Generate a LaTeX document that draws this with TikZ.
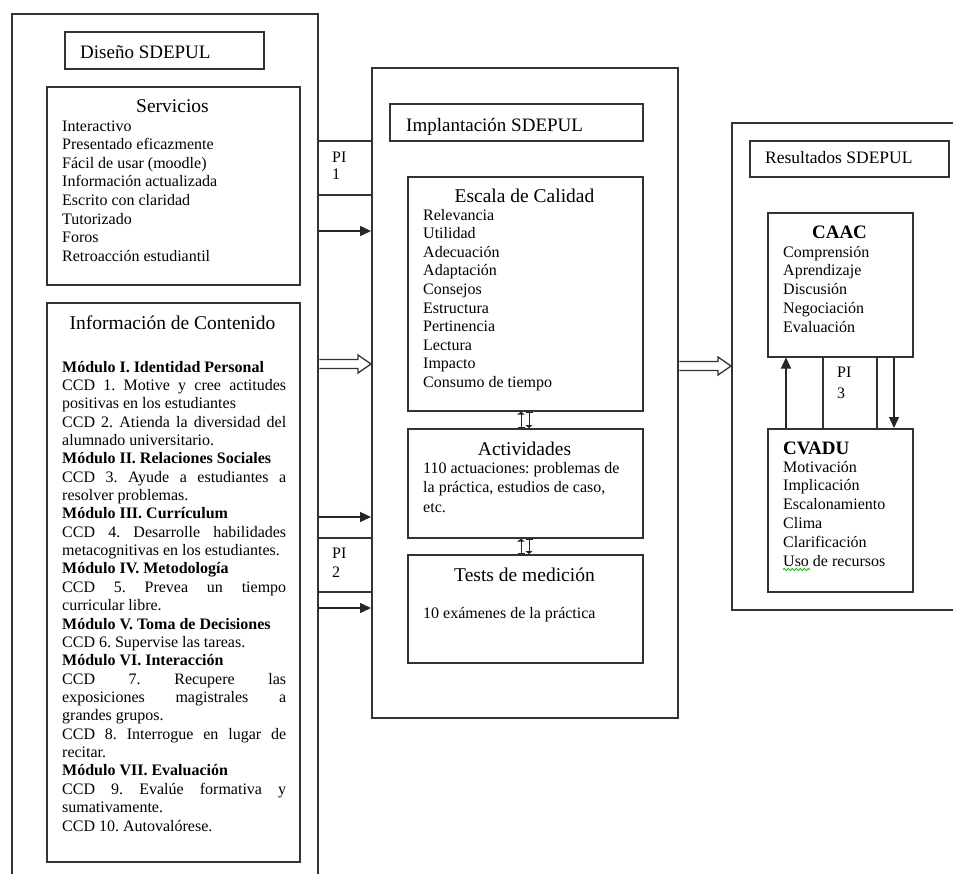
\documentclass[tikz,border=0pt]{standalone}
\usepackage{fontspec}
\setmainfont{Liberation Serif}
\usetikzlibrary{arrows.meta,calc,decorations.pathmorphing}
\tolerance=10000
\hbadness=10000
\hyphenpenalty=10000
\frenchspacing
\tikzset{
  box/.style={draw=black!80, line width=1.5pt, inner sep=0pt, anchor=north west},
  arr/.style={draw=black!85, line width=1.4pt, -{Triangle[length=11pt,width=10pt]}},
  smallarr/.style={draw=black!85, line width=1pt, {Bar[width=7pt]}-{Triangle[length=3pt,width=7pt]}},
  hollow/.style={draw=black!80, line width=1.3pt, fill=white},
  txt/.style={inner sep=0pt, anchor=base west, font=\fontsize{16}{18.6}\selectfont},
  ttl/.style={inner sep=0pt, anchor=base, font=\fontsize{19.5}{22}\selectfont},
  hdr/.style={inner sep=0pt, anchor=base west, font=\fontsize{19}{22}\selectfont},
}
\newcommand{\hollowarr}[2]{%
  \draw[hollow] ($(#1)+(0.8,-4.5)$) -- ($(#2)+(-13,-4.5)$) -- ($(#2)+(-13,-9)$) -- (#2)
    -- ($(#2)+(-13,9)$) -- ($(#2)+(-13,4.5)$) -- ($(#1)+(0.8,4.5)$);}
\begin{document}
\begin{tikzpicture}[x=1pt,y=-1pt]
\useasboundingbox (0,0) rectangle (953,873);
\clip (0,0) rectangle (953,873);
\fill[white] (0,0) rectangle (953,873);

% ---------- boxes ----------
\node[box, minimum width=306pt, minimum height=900pt] (outerL) at (11,13) {};
\node[box, minimum width=199pt, minimum height=37pt] (dis) at (64,31) {};
\node[box, minimum width=253pt, minimum height=198pt] (serv) at (46,86) {};
\node[box, minimum width=253pt, minimum height=559pt] (info) at (46,302) {};

\node[box, minimum width=306pt, minimum height=650pt] (mid) at (371,67) {};
\node[box, minimum width=253pt, minimum height=37pt] (impl) at (389,103) {};
\node[box, minimum width=235pt, minimum height=234pt] (esc) at (407,176) {};
\node[box, minimum width=235pt, minimum height=109pt] (act) at (407,428) {};
\node[box, minimum width=235pt, minimum height=108pt] (tests) at (407,554) {};

\node[box, minimum width=260pt, minimum height=487pt] (res) at (731,122) {};
\node[box, minimum width=199pt, minimum height=36pt] (resT) at (749,140) {};
\node[box, minimum width=145pt, minimum height=144pt] (caac) at (767,212) {};
\node[box, minimum width=145pt, minimum height=163pt] (cvadu) at (767,428) {};

\node[box, minimum width=54pt, minimum height=54pt] (pi1) at (317,140) {};
\node[box, minimum width=54pt, minimum height=54pt] (pi2) at (317,537) {};
\node[box, minimum width=54pt, minimum height=72pt] (pi3) at (822,356) {};

% ---------- texts: left ----------
\node[hdr] (disT) at (80,58) {Diseño SDEPUL};
\node[ttl] (servT) at (172.5,112) {Servicios};
\node[txt] (servL) at (62,131) {\parbox[t]{230pt}{Interactivo\\
Presentado eficazmente\\
Fácil de usar (moodle)\\
Información actualizada\\
Escrito con claridad\\
Tutorizado\\
Foros\\
Retroacción estudiantil}};

\node[ttl] (infoT) at (172.5,329.5) {Información de Contenido};
\node[txt, font=\fontsize{16}{18.36}\selectfont] (infoL) at (62,372) {\parbox[t]{224pt}{%
{\bfseries Módulo I. Identidad Personal}\par
CCD 1. Motive y cree actitudes\linebreak positivas en los estudiantes\par
CCD 2. Atienda la diversidad del\linebreak alumnado universitario.\par
{\bfseries Módulo II. Relaciones Sociales}\par
CCD 3. Ayude a estudiantes a\linebreak resolver problemas.\par
{\bfseries Módulo III. Currículum}\par
CCD 4. Desarrolle habilidades\linebreak metacognitivas en los estudiantes.\par
{\bfseries Módulo IV. Metodología}\par
CCD 5. Prevea un tiempo\linebreak curricular libre.\par
{\bfseries Módulo V. Toma de Decisiones}\par
CCD 6. Supervise las tareas.\par
{\bfseries Módulo VI. Interacción}\par
CCD 7. Recupere las\linebreak exposiciones magistrales a\linebreak grandes grupos.\par
CCD 8. Interrogue en lugar de\linebreak recitar.\par
{\bfseries Módulo VII. Evaluación}\par
CCD 9. Evalúe formativa y\linebreak sumativamente.\par
CCD 10. Autovalórese.}};

% ---------- texts: middle ----------
\node[hdr] (implT) at (406,131) {Implantación SDEPUL};
\node[ttl] (escT) at (524.5,202.5) {Escala de Calidad};
\node[txt] (escL) at (423,220) {\parbox[t]{210pt}{Relevancia\\
Utilidad\\
Adecuación\\
Adaptación\\
Consejos\\
Estructura\\
Pertinencia\\
Lectura\\
Impacto\\
Consumo de tiempo}};
\node[ttl] (actT) at (524.5,455.5) {Actividades};
\node[txt, font=\fontsize{16}{19.5}\selectfont] (actL) at (423,473) {\parbox[t]{215pt}{110 actuaciones: problemas de\\
la práctica, estudios de caso,\\
etc.}};
\node[ttl] (testsT) at (524.5,581.5) {Tests de medición};
\node[txt] (testsL) at (423,618) {10 exámenes de la práctica};

% ---------- texts: right ----------
\node[hdr, font=\fontsize{17.5}{20}\selectfont] (resTT) at (765,163) {Resultados SDEPUL};
\node[ttl, font=\fontsize{19}{22}\selectfont\bfseries] (caacT) at (839.5,238) {CAAC};
\node[txt, font=\fontsize{16}{18.8}\selectfont] (caacL) at (783,257) {\parbox[t]{125pt}{Comprensión\\
Aprendizaje\\
Discusión\\
Negociación\\
Evaluación}};
\node[hdr, font=\fontsize{19}{22}\selectfont\bfseries] (cvaduT) at (783,454) {CVADU};
\node[txt, font=\fontsize{16}{18.8}\selectfont] (cvaduL) at (783,472) {\parbox[t]{125pt}{Motivación\\
Implicación\\
Escalonamiento\\
Clima\\
Clarificación\\
Uso de recursos}};
\draw[green!60!black, line width=0.7pt, decorate, decoration={snake, amplitude=1.2pt, segment length=4pt}] (783,569.5) -- (810,569.5);

% ---------- PI labels ----------
\node[txt, font=\fontsize{16}{17}\selectfont] (pi1T) at (332,162) {\parbox[t]{30pt}{PI\\1}};
\node[txt, font=\fontsize{16}{19}\selectfont] (pi2T) at (332,558) {\parbox[t]{30pt}{PI\\2}};
\node[txt, font=\fontsize{16}{21}\selectfont] (pi3T) at (837,377) {\parbox[t]{30pt}{PI\\3}};

% ---------- connectors ----------
\coordinate (y1) at (0,231);
\coordinate (y2) at (0,517);
\coordinate (y3) at (0,608);
\draw[arr] (outerL.east |- y1) -- (mid.west |- y1);
\draw[arr] (outerL.east |- y2) -- (mid.west |- y2);
\draw[arr] (outerL.east |- y3) -- (mid.west |- y3);

\coordinate (h1) at (0,364);
\coordinate (h2) at (0,366);
\coordinate (h1s) at (outerL.east |- h1);
\coordinate (h1e) at (mid.west |- h1);
\coordinate (h2s) at (mid.east |- h2);
\coordinate (h2e) at (res.west |- h2);
\hollowarr{h1s}{h1e}
\hollowarr{h2s}{h2e}

\coordinate (dl) at (521,0);
\coordinate (dr) at (529,0);
\draw[smallarr] (act.north -| dl) -- (esc.south -| dl);
\draw[smallarr] (esc.south -| dr) -- (act.north -| dr);
\draw[smallarr] (tests.north -| dl) -- (act.south -| dl);
\draw[smallarr] (act.south -| dr) -- (tests.north -| dr);

\coordinate (ux) at (786,0);
\coordinate (dx) at (894,0);
\draw[arr] (cvadu.north -| ux) -- (caac.south -| ux);
\draw[arr] (caac.south -| dx) -- (cvadu.north -| dx);
\end{tikzpicture}
\end{document}
